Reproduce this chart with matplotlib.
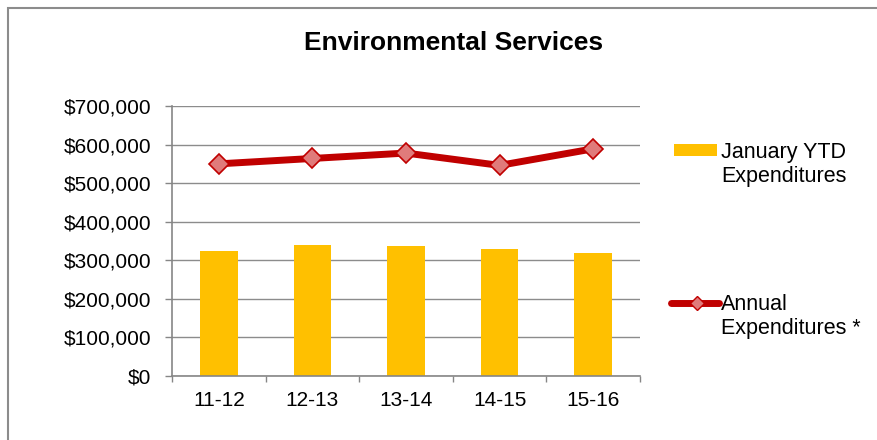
import matplotlib
matplotlib.use("Agg")
import matplotlib.pyplot as plt
from matplotlib.patches import Rectangle
from matplotlib.lines import Line2D
from matplotlib.ticker import FuncFormatter, FixedLocator
import numpy as np

categories = ["11-12", "12-13", "13-14", "14-15", "15-16"]
ytd_values = [323000, 339000, 337000, 329000, 320000]
annual_values = [550000, 564000, 578000, 546000, 589000]
title = "Environmental Services"
ytd_label = "January YTD\nExpenditures"
annual_label = "Annual\nExpenditures *"

plt.rcParams['font.family'] = ['Liberation Sans', 'DejaVu Sans']

W, H = 878, 440
fig = plt.figure(figsize=(W/100, H/100), dpi=100)
ax = fig.add_axes([172/W, 1-376/H, (640-172)/W, (376-106)/H])

bar_color = "#FFC000"
line_color = "#C00000"
marker_face = "#E07B7B"

x = np.arange(len(categories))
ax.bar(x, ytd_values, width=0.4, color=bar_color, zorder=2)
ax.plot(x, annual_values, color=line_color, linewidth=5, marker="D",
        markersize=10, markerfacecolor=marker_face, markeredgecolor=line_color,
        markeredgewidth=1.2, zorder=3)

ax.set_xlim(-0.5, len(categories)-0.5)
ax.set_ylim(0, 700000)
ax.set_yticks(np.arange(0, 700001, 100000))
ax.yaxis.set_major_formatter(FuncFormatter(lambda v, p: "${:,.0f}".format(v)))
ax.set_xticks(x)
ax.set_xticklabels(categories)
ax.xaxis.set_minor_locator(FixedLocator(np.arange(-0.5, len(categories), 1.0)))
ax.tick_params(axis='x', which='major', length=0, labelsize=15, pad=11)
ax.tick_params(axis='x', which='minor', length=4, color="#868686", width=1)
ax.tick_params(axis='y', length=5, color="#868686", width=1, labelsize=15, pad=10)
ax.yaxis.grid(True, color="#8c8c8c", linewidth=1)
ax.set_axisbelow(True)
for s in ["top", "right"]:
    ax.spines[s].set_visible(False)
for s in ["left", "bottom"]:
    ax.spines[s].set_color("#868686")
    ax.spines[s].set_linewidth(1.2)

fig.text(454/W, 1-43/H, title, ha="center", va="center", fontsize=19, fontweight="bold")

# Legend (manually placed entries)
fig.add_artist(Rectangle((674/W, 1-156/H), 43/W, 12/H, transform=fig.transFigure,
                         facecolor=bar_color, edgecolor="none"))
fig.text(721/W, 1-142/H, ytd_label, ha="left", va="top", fontsize=15.5, linespacing=1.16)

fig.add_artist(Line2D([671/W, 719/W], [1-302.5/H, 1-302.5/H], transform=fig.transFigure,
                      color=line_color, linewidth=5, solid_capstyle="round"))
fig.add_artist(Line2D([697/W], [1-302.5/H], transform=fig.transFigure, marker="D",
                      markersize=7, markerfacecolor=marker_face,
                      markeredgecolor=line_color, markeredgewidth=1, linestyle="none"))
fig.text(721/W, 1-294/H, annual_label, ha="left", va="top", fontsize=15.5, linespacing=1.16)

fig.add_artist(Rectangle((8/W, -0.1), 1.2, 1-8/H+0.1, transform=fig.transFigure,
                         fill=False, edgecolor="#8c8c8c", linewidth=1.5))

fig.savefig("out.png", dpi=100)
